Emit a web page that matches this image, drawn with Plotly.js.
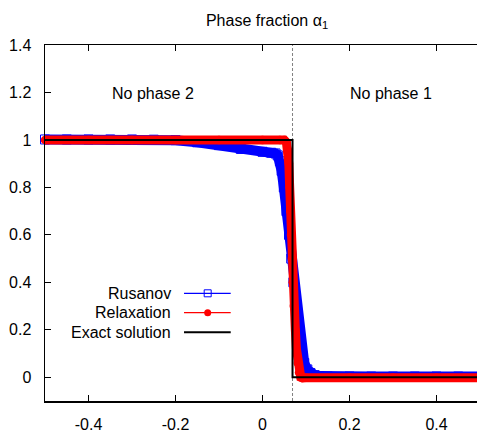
<!DOCTYPE html>
<html>
<head>
<meta charset="utf-8">
<script src="https://cdn.plot.ly/plotly-3.0.1.min.js"></script>
<style>html,body{margin:0;padding:0;overflow:hidden;background:#fff;}#chart{width:477px;height:435px;}</style>
</head>
<body>
<div id="chart"></div>
<script>
// Rusanov scheme (blue open squares)
const rusanovX = [-0.5, -0.45, -0.4, -0.35, -0.3, -0.25, -0.2, -0.15, -0.1, -0.05, 0.0, 0.02, 0.03, 0.035, 0.04, 0.044, 0.049, 0.055, 0.061, 0.066, 0.071, 0.0765, 0.083, 0.09, 0.096, 0.103, 0.11, 0.12, 0.13, 0.15, 0.2, 0.25, 0.3, 0.35, 0.4, 0.45, 0.5];
const rusanovY = [1.002, 1.002, 1.002, 1.002, 1.002, 1.001, 0.999, 0.99, 0.978, 0.962, 0.95, 0.946, 0.943, 0.935, 0.91, 0.87, 0.8, 0.7, 0.6, 0.5, 0.4, 0.3, 0.2, 0.11, 0.06, 0.033, 0.018, 0.009, 0.005, 0.003, 0.003, 0.003, 0.003, 0.003, 0.003, 0.003, 0.003];
// Relaxation scheme (red filled circles)
const relaxX = [-0.5, -0.4, -0.3, -0.2, -0.1, 0.0, 0.04, 0.05, 0.055, 0.058, 0.0605, 0.0625, 0.064, 0.0655, 0.0675, 0.0694, 0.072, 0.0755, 0.078, 0.081, 0.084, 0.088, 0.092, 0.1, 0.2, 0.3, 0.4, 0.5];
const relaxY = [1.0, 1.0, 1.0, 1.0, 1.0, 1.0, 1.0, 1.0, 0.99, 0.96, 0.9, 0.8, 0.7, 0.6, 0.5, 0.4, 0.3, 0.2, 0.12, 0.06, 0.02, 0.0, -0.003, -0.002, -0.002, -0.002, -0.002, -0.002];
// Exact solution (black)
const exactX = [-0.5, 0.069, 0.069, 0.5];
const exactY = [1, 1, 0, 0];
const interfaceX = 0.069;
const legendNames = ['Rusanov', 'Relaxation', 'Exact solution'];
const regionLabels = ['No phase 2', 'No phase 1'];
const xTicks = [-0.4, -0.2, 0, 0.2, 0.4];
const xTickText = ['-0.4', '-0.2', '0', '0.2', '0.4'];
const yTicks = [0, 0.2, 0.4, 0.6, 0.8, 1, 1.2, 1.4];
const yTickText = ['0', '0.2', '0.4', '0.6', '0.8', '1', '1.2', '1.4'];

const BLUE = '#0000ff', RED = '#ff0000';
const FONT = 'Liberation Sans, Arial, Helvetica, sans-serif';

const traces = [
  {x: rusanovX, y: rusanovY, mode: 'lines', line: {color: BLUE, width: 10}, showlegend: false, hoverinfo: 'skip'},
  {x: rusanovX, y: rusanovY, mode: 'lines+markers', name: legendNames[0], line: {color: BLUE, width: 1},
   marker: {symbol: 'square-open', size: 9, color: BLUE, line: {width: 1, color: BLUE}}, cliponaxis: false, showlegend: false},
  {x: relaxX, y: relaxY, mode: 'lines', line: {color: RED, width: 9}, showlegend: false, hoverinfo: 'skip'},
  {x: relaxX, y: relaxY, mode: 'lines+markers', name: legendNames[1], line: {color: RED, width: 1},
   marker: {symbol: 'circle', size: 8.5, color: RED}, cliponaxis: false, showlegend: false},
  {x: exactX, y: exactY, mode: 'lines', name: legendNames[2], line: {color: '#000000', width: 2}, showlegend: false}
];

// manual legend (text left of sample, like gnuplot)
const legY = [0.3025, 0.248, 0.193];
const legTextX = 0.2956, legL0 = 0.3218, legL1 = 0.4299, legM = 0.3766;
const annotations = [
  {x: -0.252, y: 1.195, xref: 'x', yref: 'y', text: regionLabels[0], showarrow: false, xanchor: 'center', yanchor: 'middle', font: {size: 16, color: '#000', family: FONT}},
  {x: 0.295, y: 1.195, xref: 'x', yref: 'y', text: regionLabels[1], showarrow: false, xanchor: 'center', yanchor: 'middle', font: {size: 16, color: '#000', family: FONT}}
];
legendNames.forEach((n, i) => annotations.push({x: legTextX, y: legY[i], xref: 'paper', yref: 'paper', text: n, showarrow: false,
  xanchor: 'right', yanchor: 'middle', font: {size: 16, color: '#000', family: FONT}}));

const legColors = [BLUE, RED, '#000000'];
const shapes = [
  {type: 'line', xref: 'x', yref: 'paper', x0: interfaceX, x1: interfaceX, y0: 0, y1: 1, line: {color: '#808080', width: 1, dash: '3px,2px'}, layer: 'below'}
];
legY.forEach((yy, i) => shapes.push({type: 'line', xref: 'paper', yref: 'paper', x0: legL0, x1: legL1, y0: yy, y1: yy,
  line: {color: legColors[i], width: i === 2 ? 2 : 1.2}}));
shapes.push({type: 'rect', xref: 'paper', yref: 'paper', xsizemode: 'pixel', ysizemode: 'pixel', xanchor: legM, yanchor: legY[0],
  x0: -3.5, x1: 3.5, y0: -3.5, y1: 3.5, line: {color: BLUE, width: 1}, fillcolor: 'rgba(0,0,0,0)'});
shapes.push({type: 'circle', xref: 'paper', yref: 'paper', xsizemode: 'pixel', ysizemode: 'pixel', xanchor: legM, yanchor: legY[1],
  x0: -3.5, x1: 3.5, y0: -3.5, y1: 3.5, line: {color: RED, width: 0}, fillcolor: RED});

const layout = {
  width: 477, height: 435, autosize: false,
  margin: {l: 45, r: 0, t: 45, b: 34},
  paper_bgcolor: '#fff', plot_bgcolor: '#fff',
  font: {family: FONT, size: 16, color: '#000'},
  title: {text: 'Phase fraction α<sub>1</sub>', font: {size: 16, family: FONT, color: '#000'}, xref: 'paper', x: 0.514, xanchor: 'center', yref: 'container', y: 0.953, yanchor: 'middle'},
  xaxis: {range: [-0.5, 0.4931], tickvals: xTicks, ticktext: xTickText, ticks: 'inside', ticklen: 6, tickcolor: '#000', tickwidth: 1,
    showline: true, linecolor: '#000', linewidth: 1.5, mirror: 'ticks', showgrid: false, zeroline: false, ticklabelstandoff: 8},
  yaxis: {range: [-0.1, 1.4], tickvals: yTicks, ticktext: yTickText, ticks: 'inside', ticklen: 6, tickcolor: '#000', tickwidth: 1,
    showline: true, linecolor: '#000', linewidth: 1.5, mirror: false, showgrid: false, zeroline: false, ticklabelstandoff: 9},
  showlegend: false,
  annotations: annotations,
  shapes: shapes
};

Plotly.newPlot('chart', traces, layout, {displayModeBar: false, staticPlot: true});
</script>
</body>
</html>
